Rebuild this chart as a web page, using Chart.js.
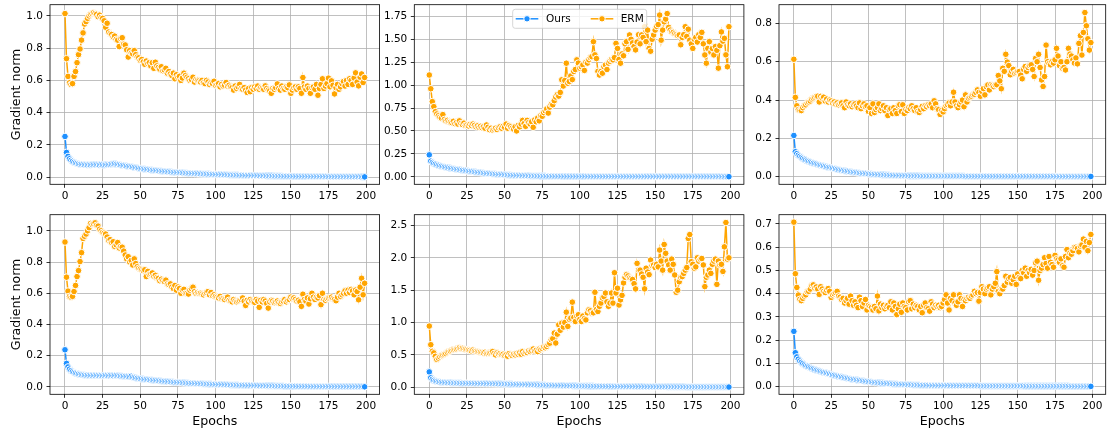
<!DOCTYPE html>
<html>
<head>
<meta charset="utf-8">
<script src="https://cdn.jsdelivr.net/npm/chart.js@4/dist/chart.umd.min.js"></script>
<style>
html,body{margin:0;padding:0;background:#fff;}
#wrap{position:relative;width:1110px;height:436px;overflow:hidden;background:#fff;}
canvas{position:absolute;}
</style>
</head>
<body>
<div id="wrap">
<canvas id="c1"></canvas><canvas id="c2"></canvas><canvas id="c3"></canvas>
<canvas id="c4"></canvas><canvas id="c5"></canvas><canvas id="c6"></canvas>
</div>
<script>
// ---------------- data ----------------
const epochs = [
0,1,2,3,4,5,6,7,8,9,10,11,12,13,14,15,16,17,18,19,
20,21,22,23,24,25,26,27,28,29,30,31,32,33,34,35,36,37,38,39,
40,41,42,43,44,45,46,47,48,49,50,51,52,53,54,55,56,57,58,59,
60,61,62,63,64,65,66,67,68,69,70,71,72,73,74,75,76,77,78,79,
80,81,82,83,84,85,86,87,88,89,90,91,92,93,94,95,96,97,98,99,
100,101,102,103,104,105,106,107,108,109,110,111,112,113,114,115,116,117,118,119,
120,121,122,123,124,125,126,127,128,129,130,131,132,133,134,135,136,137,138,139,
140,141,142,143,144,145,146,147,148,149,150,151,152,153,154,155,156,157,158,159,
160,161,162,163,164,165,166,167,168,169,170,171,172,173,174,175,176,177,178,179,
180,181,182,183,184,185,186,187,188,189,190,191,192,193,194,195,196,197,198,199];

const seriesNames = ['Ours', 'ERM'];
const xTicks = [0, 25, 50, 75, 100, 125, 150, 175, 200];
const xLabel = 'Epochs';
const yLabel = 'Gradient norm';

const p1YTicks = [0, 0.2, 0.4, 0.6, 0.8, 1.0];
const p2YTicks = [0, 0.25, 0.5, 0.75, 1.0, 1.25, 1.5, 1.75];
const p3YTicks = [0, 0.2, 0.4, 0.6, 0.8];
const p4YTicks = [0, 0.2, 0.4, 0.6, 0.8, 1.0];
const p5YTicks = [0, 0.5, 1.0, 1.5, 2.0, 2.5];
const p6YTicks = [0, 0.1, 0.2, 0.3, 0.4, 0.5, 0.6, 0.7];

const p1Ours = [
0.252,0.153,0.128,0.113,0.104,0.097,0.091,0.087,0.084,0.081,
0.079,0.078,0.077,0.076,0.076,0.075,0.076,0.075,0.076,0.077,
0.076,0.077,0.076,0.075,0.077,0.076,0.074,0.076,0.077,0.078,
0.079,0.080,0.081,0.082,0.080,0.078,0.077,0.075,0.073,0.072,
0.070,0.068,0.067,0.065,0.064,0.062,0.060,0.058,0.057,0.055,
0.053,0.052,0.050,0.049,0.048,0.047,0.045,0.044,0.043,0.042,
0.041,0.040,0.039,0.038,0.037,0.036,0.035,0.034,0.033,0.033,
0.032,0.031,0.030,0.030,0.029,0.028,0.028,0.027,0.026,0.026,
0.025,0.025,0.024,0.024,0.023,0.023,0.022,0.022,0.021,0.021,
0.020,0.020,0.019,0.019,0.019,0.018,0.018,0.017,0.017,0.017,
0.016,0.016,0.016,0.015,0.015,0.015,0.014,0.014,0.014,0.013,
0.013,0.013,0.012,0.012,0.012,0.012,0.011,0.011,0.011,0.011,
0.010,0.010,0.010,0.010,0.009,0.009,0.009,0.009,0.009,0.008,
0.008,0.008,0.008,0.008,0.007,0.007,0.007,0.007,0.007,0.006,
0.006,0.006,0.006,0.006,0.006,0.005,0.005,0.005,0.005,0.005,
0.005,0.005,0.005,0.004,0.004,0.004,0.004,0.004,0.004,0.004,
0.004,0.004,0.003,0.003,0.003,0.003,0.003,0.003,0.003,0.003,
0.003,0.003,0.003,0.003,0.002,0.002,0.002,0.002,0.002,0.002,
0.002,0.002,0.002,0.002,0.002,0.002,0.002,0.002,0.002,0.002,
0.002,0.002,0.002,0.002,0.002,0.002,0.002,0.001,0.001,0.001];

const p1Erm = [
1.015,0.735,0.625,0.585,0.575,0.580,0.625,0.655,0.710,0.760,
0.795,0.850,0.895,0.950,0.965,0.985,1.000,1.010,1.015,1.020,
1.015,1.010,0.995,1.005,0.990,0.985,0.970,0.930,0.955,0.900,
0.890,0.885,0.870,0.875,0.855,0.850,0.810,0.860,0.865,0.825,
0.820,0.790,0.745,0.785,0.770,0.765,0.785,0.760,0.745,0.740,
0.725,0.730,0.715,0.700,0.720,0.705,0.710,0.690,0.710,0.675,
0.713,0.690,0.680,0.670,0.685,0.660,0.665,0.675,0.645,0.655,
0.640,0.630,0.645,0.610,0.635,0.620,0.625,0.600,0.615,0.645,
0.630,0.620,0.610,0.600,0.605,0.620,0.590,0.605,0.600,0.597,
0.590,0.600,0.585,0.580,0.600,0.590,0.575,0.585,0.580,0.595,
0.570,0.575,0.580,0.560,0.575,0.565,0.570,0.587,0.565,0.570,
0.560,0.555,0.540,0.565,0.550,0.560,0.575,0.550,0.545,0.555,
0.540,0.525,0.550,0.530,0.555,0.545,0.560,0.550,0.565,0.545,
0.555,0.550,0.545,0.566,0.550,0.540,0.535,0.520,0.550,0.545,
0.555,0.578,0.550,0.540,0.565,0.550,0.545,0.560,0.555,0.572,
0.520,0.540,0.555,0.560,0.545,0.560,0.550,0.520,0.618,0.560,
0.545,0.565,0.550,0.520,0.555,0.560,0.545,0.575,0.508,0.550,
0.575,0.610,0.550,0.565,0.580,0.614,0.560,0.597,0.570,0.516,
0.555,0.575,0.545,0.560,0.580,0.593,0.565,0.600,0.575,0.610,
0.600,0.575,0.615,0.647,0.590,0.566,0.620,0.640,0.587,0.618];

const p2Ours = [
0.239,0.170,0.155,0.145,0.137,0.130,0.124,0.119,0.115,0.111,
0.107,0.104,0.100,0.097,0.094,0.091,0.088,0.085,0.082,0.080,
0.077,0.075,0.072,0.070,0.067,0.065,0.062,0.060,0.058,0.055,
0.053,0.051,0.049,0.047,0.045,0.043,0.041,0.039,0.037,0.036,
0.034,0.033,0.031,0.030,0.029,0.027,0.026,0.025,0.024,0.023,
0.022,0.021,0.020,0.019,0.018,0.017,0.016,0.015,0.015,0.014,
0.013,0.013,0.012,0.012,0.011,0.011,0.010,0.010,0.009,0.009,
0.009,0.008,0.008,0.008,0.007,0.007,0.007,0.007,0.006,0.006,
0.006,0.006,0.006,0.005,0.005,0.005,0.005,0.005,0.005,0.004,
0.004,0.004,0.004,0.004,0.004,0.004,0.004,0.004,0.004,0.004,
0.004,0.004,0.004,0.004,0.004,0.003,0.003,0.003,0.003,0.003,
0.003,0.003,0.003,0.003,0.003,0.003,0.003,0.003,0.003,0.003,
0.003,0.003,0.003,0.003,0.003,0.003,0.003,0.003,0.003,0.003,
0.003,0.003,0.003,0.003,0.003,0.003,0.003,0.003,0.003,0.003,
0.003,0.003,0.003,0.003,0.003,0.002,0.002,0.002,0.002,0.002,
0.002,0.002,0.002,0.002,0.002,0.002,0.002,0.002,0.002,0.002,
0.002,0.002,0.002,0.002,0.002,0.002,0.002,0.002,0.002,0.002,
0.002,0.002,0.002,0.002,0.002,0.002,0.002,0.002,0.002,0.002,
0.002,0.002,0.002,0.002,0.002,0.002,0.002,0.002,0.002,0.002,
0.002,0.002,0.002,0.002,0.002,0.001,0.001,0.001,0.001,0.001];

const p2Erm = [
1.110,0.960,0.820,0.765,0.710,0.685,0.665,0.650,0.640,0.678,
0.625,0.610,0.615,0.600,0.595,0.590,0.605,0.580,0.590,0.575,
0.610,0.580,0.570,0.585,0.560,0.565,0.555,0.570,0.560,0.575,
0.560,0.545,0.555,0.540,0.550,0.535,0.545,0.530,0.565,0.540,
0.514,0.530,0.510,0.520,0.530,0.515,0.535,0.545,0.530,0.550,
0.540,0.575,0.530,0.560,0.545,0.530,0.520,0.545,0.500,0.560,
0.545,0.575,0.615,0.580,0.550,0.615,0.590,0.575,0.600,0.540,
0.620,0.600,0.640,0.610,0.665,0.660,0.700,0.720,0.740,0.695,
0.760,0.790,0.785,0.830,0.870,0.895,0.880,0.920,1.058,0.990,
1.050,1.239,1.020,1.040,1.100,1.060,1.148,1.170,1.275,1.240,
1.185,1.200,1.220,1.160,1.250,1.240,1.275,1.300,1.310,1.474,
1.330,1.290,1.150,1.110,1.148,1.130,1.200,1.220,1.170,1.240,
1.260,1.280,1.275,1.300,1.455,1.400,1.280,1.239,1.340,1.320,
1.450,1.474,1.390,1.547,1.500,1.460,1.420,1.384,1.470,1.550,
1.450,1.547,1.520,1.637,1.474,1.600,1.400,1.370,1.500,1.547,
1.600,1.640,1.660,1.764,1.490,1.600,1.690,1.720,1.780,1.630,
1.600,1.580,1.575,1.560,1.550,1.540,1.547,1.440,1.520,1.550,
1.637,1.530,1.610,1.490,1.450,1.400,1.500,1.520,1.470,1.550,
1.520,1.575,1.450,1.329,1.239,1.400,1.474,1.360,1.400,1.329,
1.420,1.380,1.185,1.430,1.580,1.480,1.510,1.330,1.200,1.637];

const p3Ours = [
0.215,0.130,0.120,0.112,0.106,0.100,0.095,0.090,0.086,0.082,
0.079,0.076,0.073,0.070,0.068,0.066,0.063,0.061,0.059,0.057,
0.055,0.053,0.051,0.049,0.048,0.046,0.044,0.042,0.040,0.038,
0.036,0.035,0.033,0.032,0.030,0.029,0.028,0.026,0.025,0.024,
0.023,0.022,0.021,0.020,0.019,0.018,0.017,0.016,0.016,0.015,
0.014,0.014,0.013,0.012,0.012,0.011,0.011,0.010,0.010,0.009,
0.009,0.009,0.008,0.008,0.008,0.007,0.007,0.007,0.006,0.006,
0.006,0.006,0.005,0.005,0.005,0.005,0.005,0.004,0.004,0.004,
0.004,0.004,0.004,0.004,0.004,0.003,0.003,0.003,0.003,0.003,
0.003,0.003,0.003,0.003,0.003,0.003,0.003,0.003,0.003,0.003,
0.003,0.003,0.003,0.003,0.003,0.003,0.003,0.003,0.003,0.003,
0.003,0.003,0.003,0.003,0.003,0.002,0.002,0.002,0.002,0.002,
0.002,0.002,0.002,0.002,0.002,0.002,0.002,0.002,0.002,0.002,
0.002,0.002,0.002,0.002,0.002,0.002,0.002,0.002,0.002,0.002,
0.002,0.002,0.002,0.002,0.002,0.002,0.002,0.002,0.002,0.002,
0.002,0.002,0.002,0.002,0.002,0.002,0.002,0.002,0.002,0.002,
0.002,0.002,0.002,0.002,0.002,0.002,0.002,0.002,0.002,0.002,
0.002,0.002,0.002,0.002,0.002,0.001,0.001,0.001,0.001,0.001,
0.001,0.001,0.001,0.001,0.001,0.001,0.001,0.001,0.001,0.001,
0.001,0.001,0.001,0.001,0.001,0.001,0.001,0.001,0.001,0.001];

const p3Erm = [
0.613,0.414,0.370,0.350,0.345,0.345,0.360,0.370,0.375,0.385,
0.390,0.395,0.405,0.410,0.415,0.420,0.420,0.390,0.419,0.410,
0.415,0.395,0.405,0.390,0.400,0.395,0.385,0.390,0.380,0.385,
0.375,0.380,0.385,0.370,0.360,0.390,0.375,0.370,0.380,0.365,
0.375,0.380,0.370,0.360,0.385,0.355,0.370,0.380,0.365,0.370,
0.340,0.360,0.330,0.380,0.335,0.350,0.360,0.380,0.345,0.355,
0.370,0.345,0.360,0.319,0.350,0.355,0.330,0.360,0.345,0.330,
0.370,0.376,0.340,0.375,0.330,0.350,0.345,0.360,0.355,0.370,
0.355,0.345,0.360,0.340,0.335,0.350,0.367,0.355,0.370,0.365,
0.375,0.370,0.380,0.360,0.396,0.380,0.355,0.350,0.325,0.345,
0.338,0.355,0.370,0.376,0.385,0.370,0.390,0.441,0.390,0.370,
0.360,0.376,0.390,0.400,0.365,0.427,0.390,0.410,0.415,0.420,
0.427,0.430,0.440,0.453,0.440,0.420,0.445,0.460,0.427,0.470,
0.479,0.453,0.480,0.475,0.470,0.479,0.480,0.528,0.500,0.459,
0.566,0.550,0.639,0.598,0.580,0.532,0.550,0.560,0.540,0.545,
0.550,0.549,0.530,0.511,0.560,0.575,0.550,0.570,0.580,0.584,
0.560,0.523,0.618,0.600,0.639,0.570,0.505,0.471,0.523,0.687,
0.600,0.590,0.584,0.600,0.593,0.610,0.670,0.630,0.580,0.600,
0.566,0.570,0.557,0.600,0.670,0.640,0.630,0.610,0.593,0.620,
0.589,0.696,0.736,0.635,0.753,0.857,0.788,0.720,0.661,0.700];

const p4Ours = [
0.238,0.151,0.128,0.114,0.104,0.097,0.092,0.088,0.085,0.082,
0.080,0.078,0.077,0.076,0.075,0.075,0.074,0.074,0.073,0.074,
0.073,0.074,0.073,0.072,0.073,0.072,0.073,0.074,0.073,0.072,
0.074,0.073,0.072,0.074,0.073,0.072,0.071,0.070,0.070,0.069,
0.068,0.067,0.066,0.065,0.068,0.062,0.060,0.058,0.056,0.054,
0.053,0.052,0.050,0.049,0.048,0.047,0.046,0.045,0.044,0.043,
0.042,0.041,0.040,0.039,0.038,0.037,0.036,0.035,0.034,0.034,
0.033,0.032,0.031,0.030,0.030,0.029,0.028,0.028,0.027,0.026,
0.026,0.025,0.025,0.024,0.024,0.023,0.023,0.022,0.022,0.021,
0.021,0.020,0.020,0.019,0.019,0.019,0.018,0.018,0.017,0.017,
0.017,0.016,0.016,0.016,0.015,0.015,0.015,0.014,0.014,0.014,
0.013,0.013,0.013,0.012,0.012,0.012,0.011,0.011,0.011,0.011,
0.010,0.010,0.010,0.010,0.010,0.009,0.009,0.009,0.009,0.008,
0.008,0.008,0.008,0.008,0.007,0.007,0.007,0.007,0.007,0.007,
0.006,0.006,0.006,0.006,0.006,0.006,0.005,0.005,0.005,0.005,
0.005,0.005,0.005,0.005,0.004,0.004,0.004,0.004,0.004,0.004,
0.004,0.004,0.004,0.003,0.003,0.003,0.003,0.003,0.003,0.003,
0.003,0.003,0.003,0.003,0.003,0.003,0.002,0.002,0.002,0.002,
0.002,0.002,0.002,0.002,0.002,0.002,0.002,0.002,0.002,0.002,
0.002,0.002,0.002,0.002,0.002,0.002,0.002,0.002,0.001,0.001];

const p4Erm = [
0.928,0.703,0.614,0.580,0.575,0.580,0.611,0.650,0.707,0.745,
0.803,0.860,0.951,0.965,0.979,1.000,1.020,1.047,1.040,1.045,
1.051,1.035,1.030,1.010,1.000,0.990,0.985,0.979,0.960,0.940,
0.943,0.925,0.930,0.900,0.910,0.925,0.890,0.900,0.895,0.870,
0.845,0.820,0.834,0.800,0.810,0.781,0.820,0.790,0.770,0.760,
0.755,0.750,0.745,0.750,0.707,0.740,0.720,0.725,0.730,0.710,
0.715,0.700,0.695,0.680,0.690,0.680,0.675,0.684,0.660,0.655,
0.660,0.640,0.630,0.650,0.620,0.640,0.630,0.600,0.620,0.625,
0.600,0.600,0.595,0.620,0.630,0.639,0.610,0.600,0.605,0.600,
0.600,0.595,0.590,0.600,0.605,0.611,0.590,0.605,0.585,0.590,
0.580,0.575,0.570,0.580,0.565,0.565,0.560,0.570,0.575,0.555,
0.550,0.545,0.560,0.550,0.545,0.550,0.555,0.560,0.570,0.550,
0.522,0.555,0.545,0.560,0.550,0.545,0.541,0.560,0.550,0.510,
0.555,0.545,0.560,0.550,0.535,0.505,0.545,0.555,0.550,0.540,
0.545,0.550,0.540,0.535,0.545,0.550,0.560,0.545,0.555,0.560,
0.575,0.565,0.570,0.560,0.550,0.555,0.545,0.516,0.594,0.560,
0.550,0.570,0.531,0.565,0.600,0.575,0.560,0.575,0.570,0.585,
0.527,0.600,0.560,0.555,0.565,0.570,0.575,0.575,0.565,0.560,
0.552,0.575,0.600,0.580,0.590,0.600,0.615,0.600,0.620,0.605,
0.625,0.615,0.590,0.620,0.611,0.558,0.639,0.696,0.590,0.664];

const p5Ours = [
0.236,0.144,0.120,0.105,0.095,0.089,0.084,0.080,0.077,0.074,
0.072,0.070,0.069,0.068,0.067,0.066,0.065,0.065,0.064,0.064,
0.063,0.063,0.062,0.062,0.061,0.061,0.060,0.060,0.060,0.059,
0.059,0.058,0.058,0.057,0.057,0.057,0.056,0.056,0.055,0.055,
0.055,0.054,0.054,0.053,0.053,0.052,0.052,0.051,0.051,0.050,
0.050,0.049,0.049,0.048,0.047,0.047,0.046,0.045,0.045,0.044,
0.043,0.043,0.042,0.041,0.041,0.040,0.039,0.039,0.038,0.037,
0.037,0.036,0.035,0.035,0.034,0.033,0.033,0.032,0.031,0.031,
0.030,0.029,0.029,0.028,0.027,0.027,0.026,0.026,0.025,0.024,
0.024,0.023,0.023,0.022,0.022,0.021,0.021,0.020,0.020,0.019,
0.019,0.019,0.018,0.018,0.017,0.017,0.017,0.016,0.016,0.016,
0.015,0.015,0.015,0.014,0.014,0.014,0.013,0.013,0.013,0.013,
0.012,0.012,0.012,0.012,0.011,0.011,0.011,0.011,0.010,0.010,
0.010,0.010,0.010,0.009,0.009,0.009,0.009,0.009,0.008,0.008,
0.008,0.008,0.008,0.008,0.007,0.007,0.007,0.007,0.007,0.007,
0.006,0.006,0.006,0.006,0.006,0.006,0.006,0.006,0.005,0.005,
0.005,0.005,0.005,0.005,0.005,0.005,0.005,0.005,0.005,0.005,
0.005,0.004,0.004,0.004,0.004,0.004,0.004,0.004,0.004,0.004,
0.004,0.004,0.004,0.004,0.003,0.003,0.003,0.003,0.003,0.003,
0.003,0.003,0.003,0.003,0.003,0.003,0.003,0.002,0.002,0.002];

const p5Erm = [
0.945,0.657,0.554,0.530,0.477,0.430,0.450,0.470,0.490,0.500,
0.510,0.520,0.540,0.555,0.560,0.570,0.580,0.585,0.590,0.600,
0.610,0.600,0.600,0.590,0.585,0.580,0.575,0.570,0.560,0.575,
0.560,0.555,0.550,0.545,0.540,0.535,0.530,0.540,0.520,0.525,
0.530,0.540,0.550,0.520,0.500,0.530,0.515,0.520,0.505,0.510,
0.490,0.500,0.480,0.520,0.500,0.490,0.510,0.500,0.520,0.510,
0.530,0.510,0.550,0.520,0.540,0.535,0.560,0.550,0.570,0.590,
0.560,0.570,0.550,0.590,0.580,0.600,0.620,0.610,0.630,0.660,
0.680,0.734,0.750,0.837,0.683,0.820,0.965,0.880,0.990,0.930,
1.000,1.160,0.940,1.050,1.068,1.315,1.080,1.016,1.100,1.120,
1.050,1.016,1.100,1.060,1.040,1.150,1.196,1.180,1.145,1.150,
1.468,1.200,1.170,1.250,1.300,1.380,1.400,1.456,1.320,1.250,
1.300,1.456,1.300,1.770,1.456,1.530,1.270,1.350,1.420,1.612,
1.700,1.740,1.720,1.690,1.680,1.665,1.600,1.520,1.915,1.810,
1.810,1.750,1.700,1.520,1.840,1.780,1.740,1.966,1.880,1.890,
1.850,1.900,1.860,2.120,1.950,1.810,2.207,2.070,1.950,1.890,
1.810,1.980,1.900,1.735,1.468,1.500,1.630,1.700,1.710,1.760,
1.810,1.850,2.300,2.360,1.940,1.900,1.840,1.860,2.000,1.950,
1.980,1.990,1.890,1.555,1.700,1.735,1.810,1.760,1.900,1.950,
1.980,1.590,1.950,1.890,1.900,1.790,2.170,2.546,1.980,2.000];

const p6Ours = [
0.238,0.146,0.128,0.118,0.110,0.104,0.099,0.094,0.090,0.087,
0.084,0.081,0.078,0.076,0.073,0.071,0.069,0.067,0.065,0.063,
0.061,0.060,0.058,0.056,0.054,0.052,0.050,0.049,0.047,0.046,
0.044,0.043,0.041,0.040,0.038,0.037,0.036,0.034,0.033,0.032,
0.031,0.030,0.029,0.028,0.027,0.026,0.025,0.024,0.023,0.022,
0.021,0.021,0.020,0.019,0.018,0.018,0.017,0.016,0.016,0.015,
0.015,0.014,0.014,0.013,0.013,0.012,0.012,0.011,0.011,0.011,
0.010,0.010,0.010,0.009,0.009,0.009,0.008,0.008,0.008,0.008,
0.007,0.007,0.007,0.007,0.007,0.006,0.006,0.006,0.006,0.006,
0.006,0.005,0.005,0.005,0.005,0.005,0.005,0.005,0.005,0.005,
0.005,0.005,0.005,0.005,0.005,0.004,0.004,0.004,0.004,0.004,
0.004,0.004,0.004,0.004,0.004,0.004,0.004,0.004,0.004,0.004,
0.004,0.004,0.004,0.004,0.004,0.003,0.003,0.003,0.003,0.003,
0.003,0.003,0.003,0.003,0.003,0.003,0.003,0.003,0.003,0.003,
0.003,0.003,0.003,0.003,0.003,0.003,0.003,0.003,0.003,0.003,
0.003,0.003,0.003,0.003,0.003,0.002,0.002,0.002,0.002,0.002,
0.002,0.002,0.002,0.002,0.002,0.002,0.002,0.002,0.002,0.002,
0.002,0.002,0.002,0.002,0.002,0.002,0.002,0.002,0.002,0.002,
0.002,0.002,0.002,0.002,0.002,0.001,0.001,0.001,0.001,0.001,
0.001,0.001,0.001,0.001,0.001,0.001,0.001,0.001,0.001,0.001];

const p6Erm = [
0.708,0.486,0.427,0.394,0.376,0.370,0.380,0.390,0.395,0.408,
0.410,0.420,0.435,0.438,0.425,0.429,0.420,0.397,0.430,0.420,
0.410,0.405,0.415,0.422,0.410,0.384,0.395,0.400,0.405,0.410,
0.390,0.385,0.375,0.380,0.360,0.370,0.380,0.355,0.390,0.370,
0.350,0.365,0.350,0.340,0.385,0.370,0.345,0.360,0.375,0.330,
0.350,0.345,0.340,0.330,0.345,0.335,0.390,0.326,0.355,0.340,
0.350,0.335,0.345,0.350,0.340,0.365,0.330,0.360,0.345,0.310,
0.335,0.355,0.320,0.360,0.345,0.340,0.330,0.365,0.370,0.335,
0.355,0.340,0.350,0.345,0.330,0.345,0.318,0.350,0.360,0.340,
0.335,0.325,0.365,0.355,0.340,0.350,0.345,0.350,0.340,0.345,
0.360,0.375,0.395,0.360,0.330,0.380,0.370,0.395,0.360,0.350,
0.365,0.395,0.380,0.345,0.375,0.370,0.380,0.385,0.380,0.390,
0.395,0.410,0.400,0.405,0.368,0.405,0.430,0.420,0.400,0.420,
0.425,0.430,0.395,0.420,0.430,0.445,0.495,0.410,0.400,0.420,
0.420,0.435,0.475,0.450,0.465,0.470,0.445,0.460,0.475,0.440,
0.485,0.470,0.465,0.500,0.490,0.510,0.475,0.500,0.490,0.505,
0.480,0.500,0.533,0.540,0.458,0.500,0.510,0.525,0.555,0.530,
0.510,0.560,0.535,0.525,0.514,0.565,0.550,0.545,0.535,0.550,
0.520,0.514,0.560,0.590,0.555,0.575,0.570,0.585,0.600,0.600,
0.595,0.580,0.605,0.610,0.635,0.600,0.625,0.585,0.620,0.655];

// ---------------- drawing ----------------
const BLUE = '#1e90ff';
const ORANGE = '#ffa500';
Chart.defaults.font.family = "'DejaVu Sans', 'Liberation Sans', sans-serif";
Chart.defaults.color = '#000';

const panels = [
  {id:'c1', ours:p1Ours, erm:p1Erm, yt:p1YTicks, dec:1, ymin:-0.045, ymax:1.070, row:0, col:0},
  {id:'c2', ours:p2Ours, erm:p2Erm, yt:p2YTicks, dec:2, ymin:-0.082, ymax:1.877, row:0, col:1, legend:true},
  {id:'c3', ours:p3Ours, erm:p3Erm, yt:p3YTicks, dec:1, ymin:-0.040, ymax:0.898, row:0, col:2},
  {id:'c4', ours:p4Ours, erm:p4Erm, yt:p4YTicks, dec:1, ymin:-0.047, ymax:1.103, row:1, col:0},
  {id:'c5', ours:p5Ours, erm:p5Erm, yt:p5YTicks, dec:1, ymin:-0.110, ymax:2.667, row:1, col:1},
  {id:'c6', ours:p6Ours, erm:p6Erm, yt:p6YTicks, dec:1, ymin:-0.033, ymax:0.740, row:1, col:2}
];
const colGeom = [
  {left:0,   w:386, axisW:50,   padR:6.4},
  {left:364, w:386, axisW:50.3, padR:6.1},
  {left:729, w:381, axisW:50,   padR:1.4}
];
const rowGeom = [{top:0, h:210}, {top:210, h:226}];
const AREA_TOP = 4.7, AREA_BOTTOM = 184.3;

const framePlugin = {
  id: 'frame',
  afterDraw(chart) {
    const {ctx, chartArea: a} = chart;
    ctx.save();
    ctx.strokeStyle = '#000';
    ctx.lineWidth = 0.8;
    ctx.strokeRect(a.left, a.top, a.right - a.left, a.bottom - a.top);
    ctx.restore();
  }
};

const innerLegend = {
  id: 'innerLegend',
  afterDraw(chart, args, opts) {
    if (!opts || !opts.show) return;
    const {ctx, chartArea: a} = chart;
    const w = 134, h = 19;
    const x0 = (a.left + a.right) / 2 - w / 2 + 0.6;
    const y0 = a.top + 4.6;
    const r = 2.5;
    ctx.save();
    ctx.beginPath();
    ctx.moveTo(x0 + r, y0);
    ctx.lineTo(x0 + w - r, y0);
    ctx.arcTo(x0 + w, y0, x0 + w, y0 + r, r);
    ctx.lineTo(x0 + w, y0 + h - r);
    ctx.arcTo(x0 + w, y0 + h, x0 + w - r, y0 + h, r);
    ctx.lineTo(x0 + r, y0 + h);
    ctx.arcTo(x0, y0 + h, x0, y0 + h - r, r);
    ctx.lineTo(x0, y0 + r);
    ctx.arcTo(x0, y0, x0 + r, y0, r);
    ctx.closePath();
    ctx.fillStyle = 'rgba(255,255,255,0.8)';
    ctx.fill();
    ctx.strokeStyle = '#cccccc';
    ctx.lineWidth = 0.8;
    ctx.stroke();
    const cy = y0 + h / 2;
    const handleX = [3, 78], textX = [33.3, 108];
    chart.data.datasets.forEach((ds, i) => {
      const hx = x0 + handleX[i];
      ctx.beginPath();
      ctx.moveTo(hx, cy); ctx.lineTo(hx + 22.6, cy);
      ctx.strokeStyle = ds.borderColor; ctx.lineWidth = 1.5; ctx.stroke();
      ctx.beginPath();
      ctx.arc(hx + 11.3, cy, 3.2, 0, Math.PI * 2);
      ctx.fillStyle = ds.borderColor; ctx.fill();
      ctx.strokeStyle = '#fff'; ctx.lineWidth = 1; ctx.stroke();
      ctx.fillStyle = '#000';
      ctx.font = "10.5px 'DejaVu Sans', sans-serif";
      ctx.textBaseline = 'middle';
      ctx.textAlign = 'left';
      ctx.fillText(ds.label, x0 + textX[i], cy);
    });
    ctx.restore();
  }
};

function makeDataset(label, values, color, order) {
  return {
    label, data: values, order,
    borderColor: color, backgroundColor: color,
    borderWidth: 1.5,
    pointRadius: 3.3, pointHoverRadius: 3.3,
    pointBackgroundColor: color, pointBorderColor: '#ffffff', pointBorderWidth: 1,
    tension: 0
  };
}

panels.forEach(p => {
  const cg = colGeom[p.col], rg = rowGeom[p.row];
  const cv = document.getElementById(p.id);
  cv.width = cg.w; cv.height = rg.h;
  cv.style.left = cg.left + 'px'; cv.style.top = rg.top + 'px';
  const xAxisH = rg.h - AREA_BOTTOM;
  new Chart(cv.getContext('2d'), {
    type: 'line',
    data: {
      labels: epochs,
      datasets: [
        makeDataset(seriesNames[0], p.ours, BLUE, 1),
        makeDataset(seriesNames[1], p.erm, ORANGE, 0)
      ]
    },
    options: {
      responsive: false, animation: false, devicePixelRatio: 1, events: [],
      layout: {padding: {left: 0, right: cg.padR, top: AREA_TOP, bottom: 0}},
      plugins: {
        legend: {display: false}, tooltip: {enabled: false},
        innerLegend: {show: !!p.legend}
      },
      scales: {
        x: {
          type: 'linear', min: -9.95, max: 208.95,
          afterBuildTicks: s => { s.ticks = xTicks.map(v => ({value: v})); },
          afterFit: s => { s.height = xAxisH; s.paddingLeft = 0; s.paddingRight = 0; },
          ticks: {autoSkip: false, maxRotation: 0, minRotation: 0, padding: 2.2,
                  font: {size: 10.5}, color: '#000', callback: v => String(v)},
          grid: {color: '#b0b0b0', lineWidth: 0.8, tickColor: '#000', tickWidth: 0.8, tickLength: 3.5, drawTicks: true},
          border: {display: false},
          title: {display: p.row === 1, text: xLabel, color: '#000',
                  font: {size: 12.6}, padding: {top: 0, bottom: 6.8}}
        },
        y: {
          type: 'linear', min: p.ymin, max: p.ymax,
          afterBuildTicks: s => { s.ticks = p.yt.map(v => ({value: v})); },
          afterFit: s => { s.width = cg.axisW; s.paddingTop = 0; s.paddingBottom = 0; },
          ticks: {padding: 3.5, font: {size: 10.5}, color: '#000',
                  callback: v => Number(v).toFixed(p.dec)},
          grid: {color: '#b0b0b0', lineWidth: 0.8, tickColor: '#000', tickWidth: 0.8, tickLength: 3.5, drawTicks: true},
          border: {display: false},
          title: {display: p.col === 0, text: yLabel, color: '#000',
                  font: {size: 12.6}, padding: {top: 8.7, bottom: 0}}
        }
      }
    },
    plugins: [framePlugin, innerLegend]
  });
});
</script>
</body>
</html>
